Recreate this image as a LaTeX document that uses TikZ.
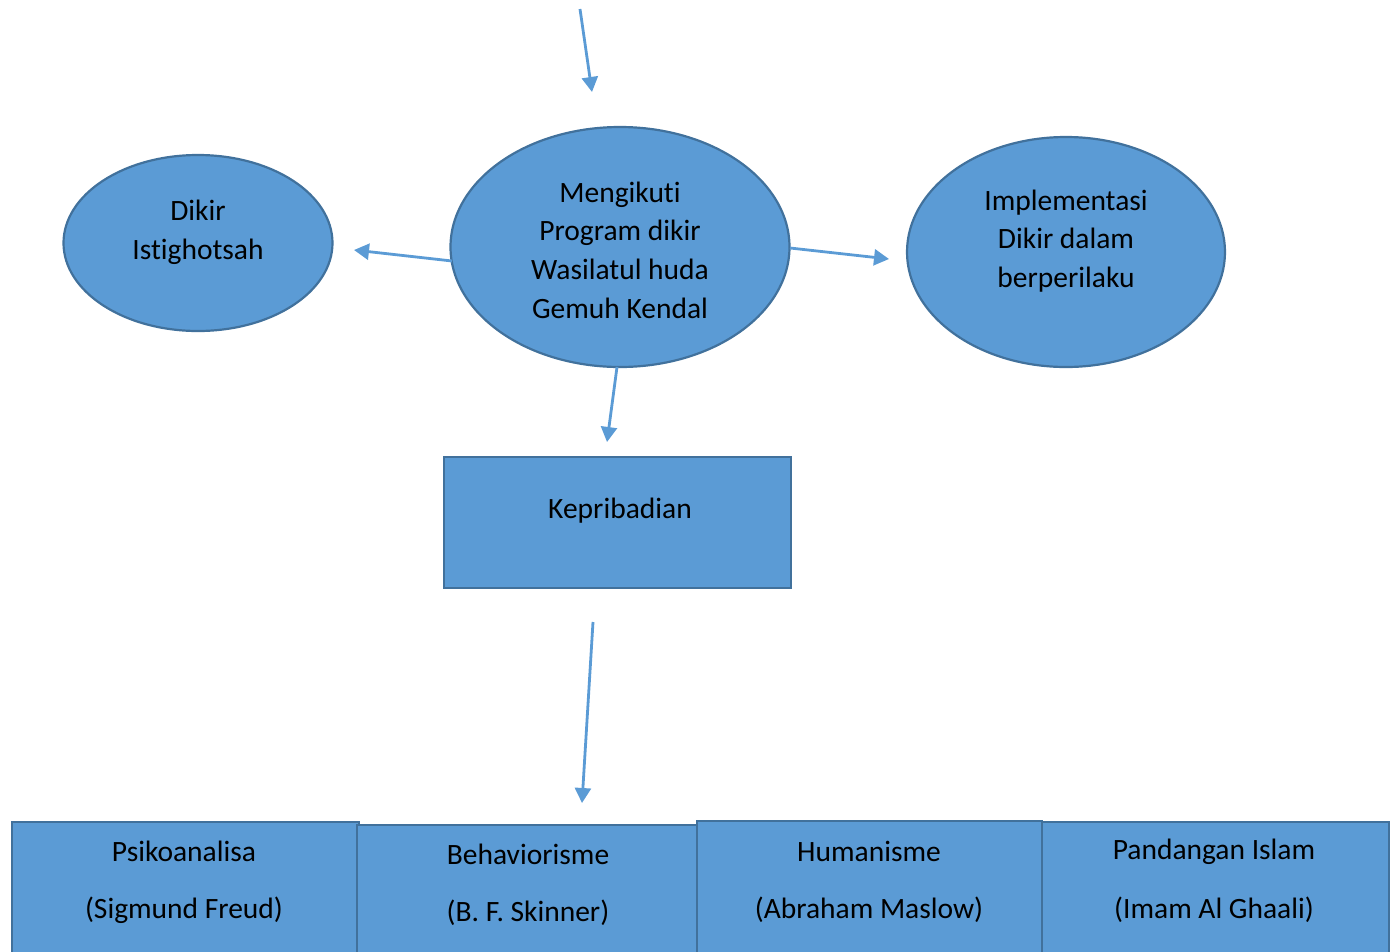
\documentclass[tikz,border=0pt]{standalone}
\usepackage{fontspec}
\setmainfont[Ligatures=NoCommon]{Carlito}
\usetikzlibrary{shapes.geometric,arrows.meta}
\definecolor{fillblue}{HTML}{5B9BD5}
\definecolor{edgeblue}{HTML}{41719C}
\tikzset{
  shapebox/.style={draw=edgeblue,fill=fillblue,line width=2.2pt},
  oval/.style={shapebox,ellipse,inner sep=0pt},
  rectbox/.style={shapebox,rectangle,inner sep=0pt,anchor=north west},
  txt/.style={font=\fontsize{29.5}{38.7}\selectfont,align=center,inner sep=0pt,text=black},
  conn/.style={draw=fillblue,line width=2.8pt,-{Triangle[length=15pt,width=16pt]}}
}
\begin{document}
\begin{tikzpicture}[x=1pt,y=-1pt]
\useasboundingbox (0,0) rectangle (1395,951);
\clip (0,0) rectangle (1395,951);
% ellipses
\node[oval,minimum width=269pt,minimum height=176pt] (dikir) at (198,243) {};
\node[oval,minimum width=339pt,minimum height=240pt] (prog) at (620,247) {};
\node[oval,minimum width=318pt,minimum height=230pt] (impl) at (1066,252) {};
\node[txt] (tdikir) at (198,232) {Dikir\\Istighotsah};
\node[txt] (tprog) at (620,250) {Mengikuti\\Program dikir\\Wasilatul huda\\Gemuh Kendal};
\node[txt] (timpl) at (1066,241) {Implementasi\\Dikir dalam\\berperilaku};
% Kepribadian
\node[rectbox,minimum width=347pt,minimum height=131pt] (kep) at (443,456) {};
\node[txt] (tkep) at (620,511) {Kepribadian};
% bottom boxes
\node[rectbox,minimum width=347pt,minimum height=160pt] (b1) at (11,821) {};
\node[rectbox,minimum width=340pt,minimum height=160pt] (b2) at (356,824) {};
\node[rectbox,minimum width=345pt,minimum height=160pt] (b3) at (696,820) {};
\node[rectbox,minimum width=347pt,minimum height=160pt] (b4) at (1041,821) {};
\node[txt] (t1a) at (184,851) {Psikoanalisa};
\node[txt] (t1b) at (184,910) {(Sigmund Freud)};
\node[txt] (t2a) at (528,854) {Behaviorisme};
\node[txt] (t2b) at (528,913) {(B. F. Skinner)};
\node[txt] (t3a) at (869,851) {Humanisme};
\node[txt] (t3b) at (869,910) {(Abraham Maslow)};
\node[txt] (t4a) at (1214,852) {Pandangan Islam};
\node[txt] (t4b) at (1214,910) {(Imam Al Ghaali)};
% connector end points
\coordinate (topstart) at (580,9);
\coordinate (topend) at (592,92);
\coordinate (lstart) at (452,261);
\coordinate (lend) at (354,250);
\coordinate (rstart) at (790,248);
\coordinate (rend) at (889,259);
\coordinate (dstart) at (617,367);
\coordinate (dend) at (607,442);
\coordinate (d2start) at (593,622);
\coordinate (d2end) at (582,803);
\draw[conn] (topstart) -- (topend);
\draw[conn] (lstart) -- (lend);
\draw[conn] (rstart) -- (rend);
\draw[conn] (dstart) -- (dend);
\draw[conn] (d2start) -- (d2end);
\end{tikzpicture}
\end{document}
